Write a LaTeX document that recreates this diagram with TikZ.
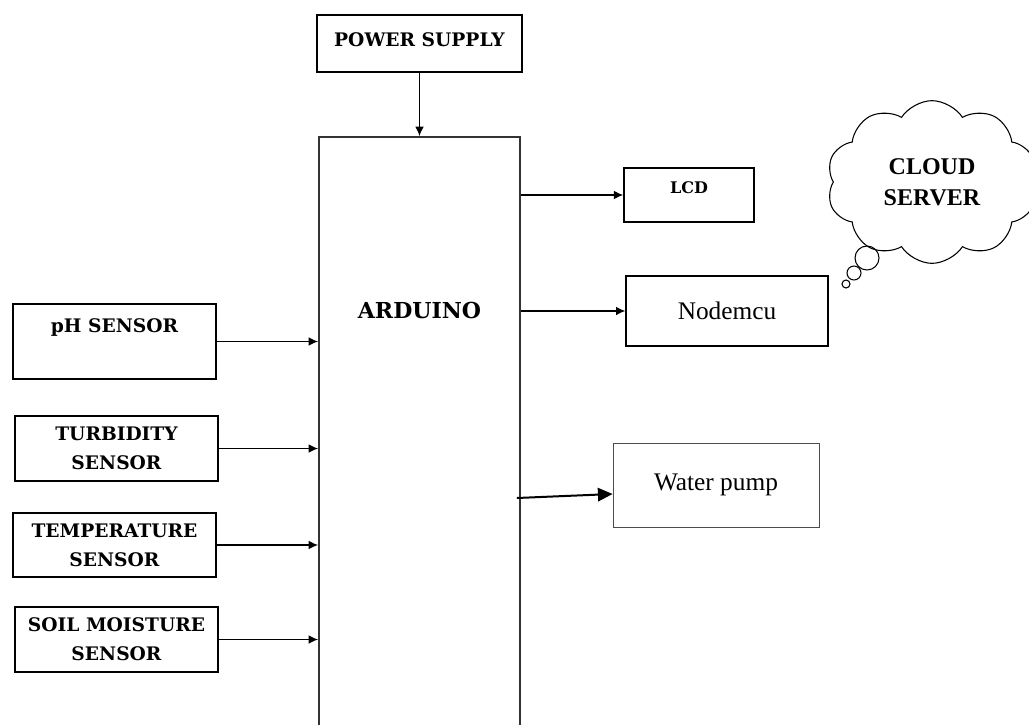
\documentclass[tikz,border=0pt]{standalone}
\usepackage{fontspec}
\setmainfont{Liberation Serif}
\newfontfamily\boxfont{DejaVu Serif}
\usetikzlibrary{shapes.symbols, arrows.meta}

\tikzset{
  block/.style={draw, line width=1.1pt, inner sep=2pt, align=center,
    font=\boxfont\bfseries\fontsize{14}{22}\selectfont},
  plainblock/.style={draw, line width=0.9pt, inner sep=2pt,
    font=\fontsize{19}{23}\selectfont},
  link/.style={-{Latex[length=7pt, width=6.5pt]}, line width=1pt},
  bubble/.style={draw, circle, line width=0.8pt, inner sep=0pt},
}

\begin{document}
\begin{tikzpicture}[x=0.75pt, y=-0.75pt]
    % Khung hien thi
    \useasboundingbox (0, 0) rectangle (1029, 725);
    \clip (0, 0) rectangle (1029, 725);

    % 1. Nguon va khoi ARDUINO
    \node[block, minimum width=153.75pt, minimum height=42.75pt,
        text height=10.2pt, text depth=5.25pt] (power) at (419.5, 43.5) {POWER SUPPLY};
    \node[block, draw=black!80, line width=1.4pt, minimum width=150.75pt, minimum height=467.25pt,
        font=\boxfont\bfseries\fontsize{16.5}{20}\selectfont,
        text height=12pt, text depth=207pt] (arduino) at (419.5, 448.5) {ARDUINO};

    % 2. Cac cam bien ben trai
    \node[block, minimum width=152.25pt, minimum height=56.25pt,
        text height=10.2pt, text depth=23.25pt] (ph) at (114.5, 341.5) {pH SENSOR};
    \node[block, minimum width=152.25pt, minimum height=48.75pt] (turbidity) at (116.5, 448.5) {TURBIDITY\\SENSOR};
    \node[block, minimum width=152.25pt, minimum height=48pt] (temperature) at (114.5, 545) {TEMPERATURE\\SENSOR};
    \node[block, minimum width=152.25pt, minimum height=48.75pt] (soil) at (116.5, 639.5) {SOIL MOISTURE\\SENSOR};

    % 3. Cac khoi ben phai
    \node[block, minimum width=97.5pt, minimum height=40.5pt,
        font=\boxfont\bfseries\fontsize{12}{14}\selectfont,
        text height=8.8pt, text depth=10.5pt] (lcd) at (689, 195) {LCD};
    \node[plainblock, minimum width=151.5pt, minimum height=52.5pt] (nodemcu) at (727, 311) {Nodemcu};
    \node[plainblock, draw=black!70, line width=0.6pt, minimum width=154.5pt, minimum height=63pt] (pump) at (716, 485) {Water pump};

    % 4. Dam may
    \node[cloud, draw, line width=0.8pt, cloud puffs=10, cloud puff arc=115, aspect=1.3,
        minimum width=158pt, minimum height=122pt, align=center,
        font=\bfseries\fontsize{18}{23}\selectfont] (cloud) at (932, 182) {CLOUD\\SERVER};
    \node[bubble, minimum size=18pt] (bubbleA) at (867, 258) {};
    \node[bubble, minimum size=10.5pt] (bubbleB) at (854, 273) {};
    \node[bubble, minimum size=6pt] (bubbleC) at (846, 284) {};

    % 5. Mui ten
    \draw[link] (power) -- (arduino);
    \draw[link] (ph) -- (ph -| arduino.west);
    \draw[link] (turbidity) -- (turbidity -| arduino.west);
    \draw[link] (temperature) -- (temperature -| arduino.west);
    \draw[link] (soil) -- (soil -| arduino.west);
    \draw[link] (lcd -| arduino.east) -- (lcd);
    \draw[link] (nodemcu -| arduino.east) -- (nodemcu);
    \draw[-{Triangle[length=11pt, width=10pt]}, line width=1.5pt]
        ([xshift=-3pt, yshift=-9.75pt]pump.west -| arduino.east) -- ([yshift=-6.75pt]pump.west);

\end{tikzpicture}
\end{document}
